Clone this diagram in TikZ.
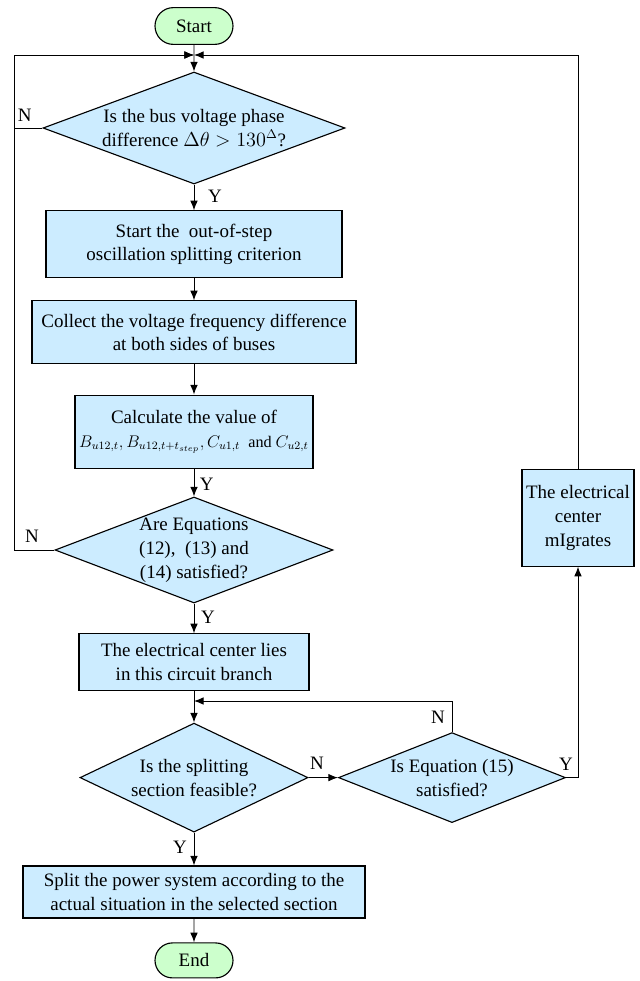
\documentclass[tikz,border=0pt]{standalone}
\usepackage{fontspec}
\setmainfont{Liberation Serif}
\usetikzlibrary{positioning}
\usetikzlibrary{calc}
\usetikzlibrary{arrows.meta}
\usetikzlibrary{shapes}

\definecolor{boxblue}{RGB}{204,236,255}
\definecolor{termgreen}{RGB}{204,255,204}

\begin{document}
\begin{tikzpicture} [
    font=\fontsize{13.5}{17}\selectfont, % Times-like text throughout
    ]
% -------------------------------------------------
\tikzset{
  base/.style={draw, line width=0.8pt, align=center, inner sep=0pt},
  rect/.style={base, rectangle, fill=boxblue},
  dec/.style={base, diamond, fill=boxblue},
  term/.style={base, rounded rectangle, fill=termgreen, minimum width=1.95cm, minimum height=0.92cm},
  line/.style={draw, line width=0.7pt, -{Latex[length=2.4mm, width=1.9mm]}}
}

    \useasboundingbox (0,0) rectangle (16,-24.525);

    \node [term] (srt) at (4.85,-0.65) {Start};
    \node [dec, aspect=2.7, minimum width=7.55cm, minimum height=2.8cm] (pha) at (4.85,-3.2)
          {Is the bus voltage phase\\ difference $\Delta\theta>130^{\Delta}$?};
    \node [rect, minimum width=7.4cm, minimum height=1.675cm] (osc) at (4.85,-6.11)
          {Start the\ \ out-of-step\\ oscillation splitting criterion};
    \node [rect, minimum width=8.1cm, minimum height=1.575cm] (col) at (4.85,-8.31)
          {Collect the voltage frequency difference\\ at both sides of buses};
    \node [rect, minimum width=5.95cm, minimum height=1.825cm] (cal) at (4.85,-10.79)
          {Calculate the value of\\ {\fontsize{11.5}{17}\selectfont $B_{u12,t}, B_{u12,t+t_{step}}, C_{u1,t}$ \ and $C_{u2,t}$}};
    \node [dec, aspect=2.62, minimum width=6.95cm, minimum height=2.65cm, inner sep=-3pt] (eqn) at (4.85,-13.75)
          {Are Equations\\ (12),\ \ (13) and\\ (14) satisfied?};
    \node [rect, minimum width=5.75cm, minimum height=1.425cm] (cen) at (4.85,-16.56)
          {The electrical center lies\\ in this circuit branch};
    \node [dec, aspect=2.09, minimum width=5.7cm, minimum height=2.725cm] (fea) at (4.85,-19.44)
          {Is the splitting\\ section feasible?};
    \node [dec, aspect=2.52, minimum width=5.675cm, minimum height=2.25cm, inner sep=-2pt] (e15) at (11.3,-19.44)
          {Is Equation (15)\\ satisfied?};
    \node [rect, minimum width=2.8cm, minimum height=2.425cm] (mig) at (14.45,-12.94)
          {The electrical\\ center\\ mIgrates};
    \node [rect, minimum width=8.55cm, minimum height=1.3cm] (spl) at (4.85,-22.3)
          {Split the power system according to the\\ actual situation in the selected section};
    \node [term, minimum height=0.875cm] (fin) at (4.85,-24.01) {End};

    \coordinate (jn) at (4.85,-1.375);                              % top junction
    \coordinate (lx) at (0.35,0);                                   % left return line
    \coordinate (mrg) at (4.85,-17.525);                            % merge above feasibility check

    \path [line] (srt) -- (pha);
    \path [line] (pha.west) -- (pha.west -| lx) |- (jn);
    \path [line] (eqn.west) -- (eqn.west -| lx) |- (jn);
    \path [line] (mig.north) |- (jn);
    \path [line] (pha) -- (osc);
    \path [line] (osc) -- (col);
    \path [line] (col) -- (cal);
    \path [line] (cal) -- (eqn);
    \path [line] (eqn) -- (cen);
    \path [line] (cen) -- (fea);
    \path [line] (e15.north) |- (mrg);
    \path [line] (fea.east) -- (e15.west);
    \path [line] (e15.east) -| (mig.south);
    \path [line] (fea) -- (spl);
    \path [line] (spl) -- (fin);

    % branch labels
    \node (nph) at (0.62,-2.875) {N};
    \node (yph) at (5.375,-4.9) {Y};
    \node (yca) at (5.17,-12.1) {Y};
    \node (neq) at (0.8,-13.4) {N};
    \node (yeq) at (5.2,-15.43) {Y};
    \node (n15) at (10.95,-17.93) {N};
    \node (nfe) at (7.925,-19.08) {N};
    \node (y15) at (14.15,-19.1) {Y};
    \node (yfe) at (4.5,-21.18) {Y};

\end{tikzpicture}
\end{document}
